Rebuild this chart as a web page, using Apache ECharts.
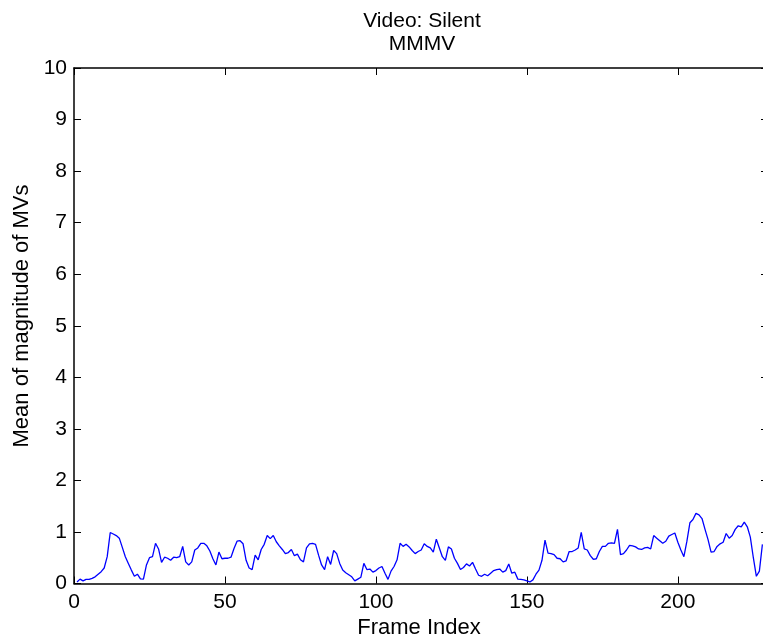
<!DOCTYPE html>
<html>
<head>
<meta charset="utf-8">
<script src="https://cdn.jsdelivr.net/npm/echarts@6/dist/echarts.min.js"></script>
<style>
html,body{margin:0;padding:0;background:#fff;}
#chart{width:763px;height:642px;}
</style>
</head>
<body>
<div id="chart"></div>
<script>
var titleLines = ["Video: Silent", "MMMV"];
var xAxisLabel = "Frame Index";
var yAxisLabel = "Mean of magnitude of MVs";
var xTicks = [0, 50, 100, 150, 200];
var yTicks = [0, 1, 2, 3, 4, 5, 6, 7, 8, 9, 10];
var firstFrame = 1;
var mmmv = [
0.03,0.085,0.05,0.08,0.08,0.10,0.13,0.18,0.23,0.30,
0.52,0.99,0.96,0.93,0.88,0.70,0.52,0.39,0.26,0.14,
0.18,0.09,0.085,0.36,0.50,0.52,0.78,0.67,0.41,0.51,
0.49,0.45,0.51,0.50,0.52,0.72,0.42,0.36,0.42,0.65,
0.69,0.78,0.78,0.73,0.63,0.48,0.36,0.61,0.48,0.49,
0.49,0.51,0.68,0.82,0.83,0.77,0.45,0.30,0.27,0.55,
0.46,0.66,0.76,0.93,0.87,0.93,0.81,0.73,0.66,0.58,
0.60,0.66,0.54,0.57,0.46,0.42,0.69,0.77,0.78,0.76,
0.55,0.36,0.27,0.52,0.37,0.64,0.58,0.39,0.26,0.21,
0.17,0.13,0.05,0.085,0.12,0.39,0.27,0.28,0.22,0.25,
0.30,0.33,0.20,0.08,0.24,0.33,0.46,0.78,0.72,0.76,
0.71,0.64,0.58,0.62,0.65,0.77,0.72,0.69,0.61,0.86,
0.69,0.52,0.45,0.71,0.67,0.49,0.39,0.27,0.31,0.38,
0.34,0.41,0.28,0.16,0.14,0.18,0.15,0.20,0.25,0.27,
0.28,0.22,0.25,0.38,0.20,0.22,0.085,0.08,0.07,0.05,
0.03,0.07,0.18,0.26,0.45,0.84,0.59,0.58,0.56,0.49,
0.48,0.42,0.44,0.62,0.62,0.65,0.69,0.99,0.67,0.65,
0.54,0.47,0.48,0.62,0.72,0.72,0.78,0.79,0.78,1.05,
0.56,0.58,0.65,0.74,0.73,0.71,0.67,0.66,0.69,0.70,
0.67,0.93,0.88,0.83,0.78,0.82,0.92,0.95,0.98,0.80,
0.65,0.52,0.82,1.18,1.24,1.36,1.33,1.26,1.05,0.85,
0.61,0.62,0.72,0.77,0.80,0.97,0.88,0.93,1.05,1.12,
1.10,1.19,1.10,0.90,0.50,0.14,0.24,0.76
];
var xMax = 228.2;

var FONT = "'Liberation Sans', Arial, Helvetica, sans-serif";
var FS = 21;
var FS_LABEL = 22;
var data = mmmv.map(function (v, i) { return [firstFrame + i, v]; });

var chart = echarts.init(document.getElementById('chart'), null, {renderer: 'canvas'});
var axisLineStyle = {color: '#000', width: 1.5};
var tickStyle = {color: '#000', width: 1};
function xFmt(v) { return xTicks.indexOf(v) >= 0 ? String(v) : ''; }
function yFmt(v) { return yTicks.indexOf(v) >= 0 ? String(v) : ''; }

chart.setOption({
  animation: false,
  backgroundColor: '#fff',
  textStyle: {fontFamily: FONT},
  title: {
    text: titleLines.join('\n'),
    left: 417, top: 4, textAlign: 'center',
    textStyle: {fontFamily: FONT, fontSize: FS, fontWeight: 'normal', color: '#000', lineHeight: 23.5}
  },
  grid: {left: 74, top: 68, right: 0, bottom: 58.5, containLabel: false, show: false},
  xAxis: [{
    type: 'value', position: 'bottom', min: 0, max: xMax, interval: 50,
    axisLine: {show: true, onZero: false, lineStyle: axisLineStyle},
    axisTick: {show: true, inside: true, length: 7, lineStyle: tickStyle},
    axisLabel: {show: true, formatter: xFmt, margin: 8, color: '#000', fontFamily: FONT, fontSize: FS, showMaxLabel: false},
    splitLine: {show: false}
  }, {
    type: 'value', position: 'top', min: 0, max: xMax, interval: 50,
    axisLine: {show: true, onZero: false, lineStyle: axisLineStyle},
    axisTick: {show: true, inside: true, length: 7, lineStyle: tickStyle},
    axisLabel: {show: false},
    splitLine: {show: false}
  }],
  yAxis: [{
    type: 'value', position: 'left', min: 0, max: 10, interval: 1,
    axisLine: {show: true, onZero: false, lineStyle: axisLineStyle},
    axisTick: {show: true, inside: true, length: 7, lineStyle: tickStyle},
    axisLabel: {show: true, formatter: yFmt, margin: 7, color: '#000', fontFamily: FONT, fontSize: FS},
    splitLine: {show: false}
  }, {
    type: 'value', position: 'right', min: 0, max: 10, interval: 1,
    axisLine: {show: false, onZero: false, lineStyle: axisLineStyle},
    axisTick: {show: true, inside: true, length: 2, lineStyle: tickStyle},
    axisLabel: {show: false},
    splitLine: {show: false}
  }],
  graphic: [{
    type: 'text',
    x: 419, y: 628,
    style: {text: xAxisLabel, textAlign: 'center', textVerticalAlign: 'middle', font: FS_LABEL + 'px ' + FONT, fill: '#000'}
  }, {
    type: 'text',
    rotation: Math.PI / 2,
    x: 22, y: 316,
    style: {text: yAxisLabel, textAlign: 'center', textVerticalAlign: 'middle', font: FS_LABEL + 'px ' + FONT, fill: '#000'}
  }],
  series: [{
    type: 'line', xAxisIndex: 0, yAxisIndex: 0,
    data: data, showSymbol: false, symbol: 'none',
    lineStyle: {color: '#0000ff', width: 1.3},
    itemStyle: {color: '#0000ff'}
  }, {
    type: 'line', xAxisIndex: 1, yAxisIndex: 1,
    data: [], showSymbol: false, symbol: 'none', silent: true
  }]
});
</script>
</body>
</html>
